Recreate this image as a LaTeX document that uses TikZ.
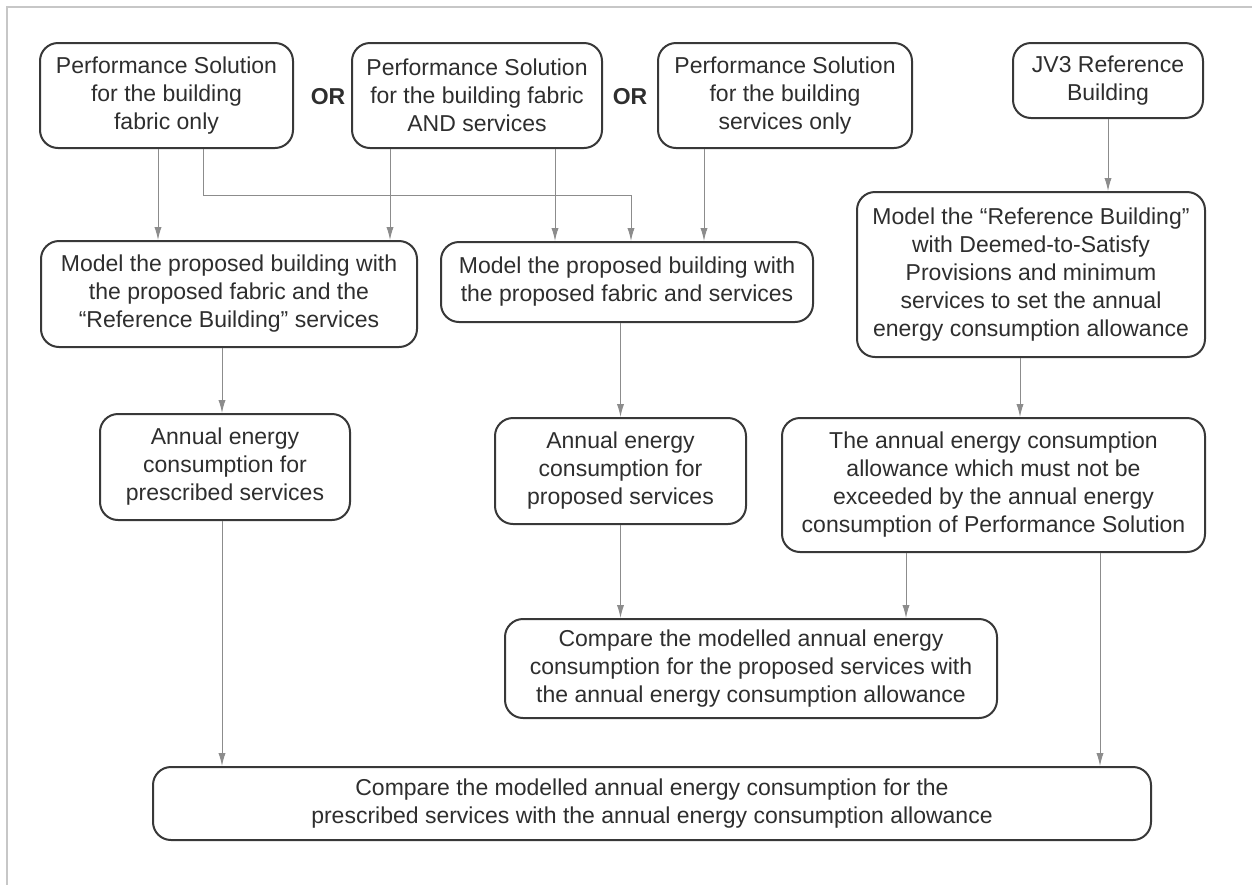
\documentclass[tikz,border=0pt]{standalone}
\usepackage{fontspec}
\setmainfont{Liberation Sans}
\usetikzlibrary{arrows.meta,positioning,calc}
\tikzset{
  >=Latex,
  flowbox/.style={draw=black!78, line width=1pt, rounded corners=9pt, fill=white,
    align=center, inner sep=2pt, text=black!82,
    font=\fontsize{11.5pt}{14pt}\selectfont},
  orlabel/.style={font=\fontsize{11.5pt}{14pt}\selectfont\bfseries, text=black!82},
  arr/.style={-{Latex[length=6.5pt,width=3.6pt]}, draw=black!45, line width=.5pt},
  frameline/.style={draw=black!22, line width=.7pt}
}
\begin{document}
\begin{tikzpicture}[x=0.5pt,y=-0.5pt]
\useasboundingbox (0,0) rectangle (1252,885);

% ------------------------------------------------------------------
% frame (top and left edge only)
% ------------------------------------------------------------------
\coordinate (frameTL) at (7,7);
\coordinate (frameTR) at (1252,7);
\coordinate (frameBL) at (7,885);
\draw[frameline] (frameTR) -- (frameTL) -- (frameBL);

% ------------------------------------------------------------------
% top row: the three options and the reference building
% ------------------------------------------------------------------
\node[flowbox, minimum width=126.5pt, minimum height=52.5pt] (fabricOnly) at (166.5,95.5)
  {Performance Solution\\for the building\\fabric only};
\node[orlabel] (orA) at (328,97) {OR};
\node[flowbox, minimum width=125pt, minimum height=52.5pt] (fabricServ) at (477,95.5)
  {Performance Solution\\for the building fabric\\AND services};
\node[orlabel] (orB) at (630,97) {OR};
\node[flowbox, minimum width=127pt, minimum height=52.5pt] (servOnly) at (785,95.5)
  {Performance Solution\\for the building\\services only};
\node[flowbox, minimum width=95pt, minimum height=37.5pt] (refBldg) at (1108,80.5)
  {JV3 Reference\\Building};

% ------------------------------------------------------------------
% modelling step
% ------------------------------------------------------------------
\node[flowbox, minimum width=188pt, minimum height=53pt] (modelFabric) at (229,294)
  {Model the proposed building with\\the proposed fabric and the\\``Reference Building'' services};
\node[flowbox, minimum width=186pt, minimum height=40pt] (modelBoth) at (627,282)
  {Model the proposed building with\\the proposed fabric and services};
\node[flowbox, minimum width=174pt, minimum height=82.5pt] (modelRef) at (1031,274.5)
  {Model the ``Reference Building''\\with Deemed-to-Satisfy\\Provisions and minimum\\services to set the annual\\energy consumption allowance};

% ------------------------------------------------------------------
% annual consumption and allowance
% ------------------------------------------------------------------
\node[flowbox, minimum width=125pt, minimum height=53pt] (prescribed) at (225,467)
  {Annual energy\\consumption for\\prescribed services};
\node[flowbox, minimum width=125.5pt, minimum height=53pt] (proposed) at (620.5,471)
  {Annual energy\\consumption for\\proposed services};
\node[flowbox, minimum width=211.5pt, minimum height=67pt] (allowance) at (993.5,485)
  {The annual energy consumption\\allowance which must not be\\exceeded by the annual energy\\consumption of Performance Solution};

% ------------------------------------------------------------------
% comparisons
% ------------------------------------------------------------------
\node[flowbox, minimum width=246pt, minimum height=49.5pt] (compareProp) at (751,668.5)
  {Compare the modelled annual energy\\consumption for the proposed services with\\the annual energy consumption allowance};
\node[flowbox, minimum width=499pt, minimum height=36.5pt] (comparePresc) at (652,803.5)
  {Compare the modelled annual energy consumption for the\\prescribed services with the annual energy consumption allowance};

% ------------------------------------------------------------------
% connectors
% ------------------------------------------------------------------
\draw[arr] ([xshift=-4.25pt]fabricOnly.south) -- ([xshift=-4.25pt]fabricOnly.south |- modelFabric.north);
\draw[arr] ([xshift=18.25pt]fabricOnly.south) -- ++(0,46) -| ([xshift=2pt]modelBoth.north);
\draw[arr] ([xshift=-43.5pt]fabricServ.south) -- ([xshift=-43.5pt]fabricServ.south |- modelFabric.north);
\draw[arr] ([xshift=39pt]fabricServ.south) -- ([xshift=39pt]fabricServ.south |- modelBoth.north);
\draw[arr] ([xshift=-40.5pt]servOnly.south) -- ([xshift=-40.5pt]servOnly.south |- modelBoth.north);
\draw[arr] (refBldg.south) -- (refBldg.south |- modelRef.north);
\draw[arr] ([xshift=-5.5pt]modelRef.south) -- ([xshift=-5.5pt]modelRef.south |- allowance.north);
\draw[arr] ([xshift=-3.5pt]modelFabric.south) -- ([xshift=-3.5pt]modelFabric.south |- prescribed.north);
\draw[arr] (modelBoth.south -| proposed.north) -- (proposed.north);
\draw[arr] (proposed.south) -- (proposed.south |- compareProp.north);
\draw[arr] ([xshift=-43.75pt]allowance.south) -- ([xshift=-43.75pt]allowance.south |- compareProp.north);
\draw[arr] ([xshift=-1.5pt]prescribed.south) -- ([xshift=-1.5pt]prescribed.south |- comparePresc.north);
\draw[arr] ([xshift=53.25pt]allowance.south) -- ([xshift=53.25pt]allowance.south |- comparePresc.north);

\end{tikzpicture}
\end{document}
